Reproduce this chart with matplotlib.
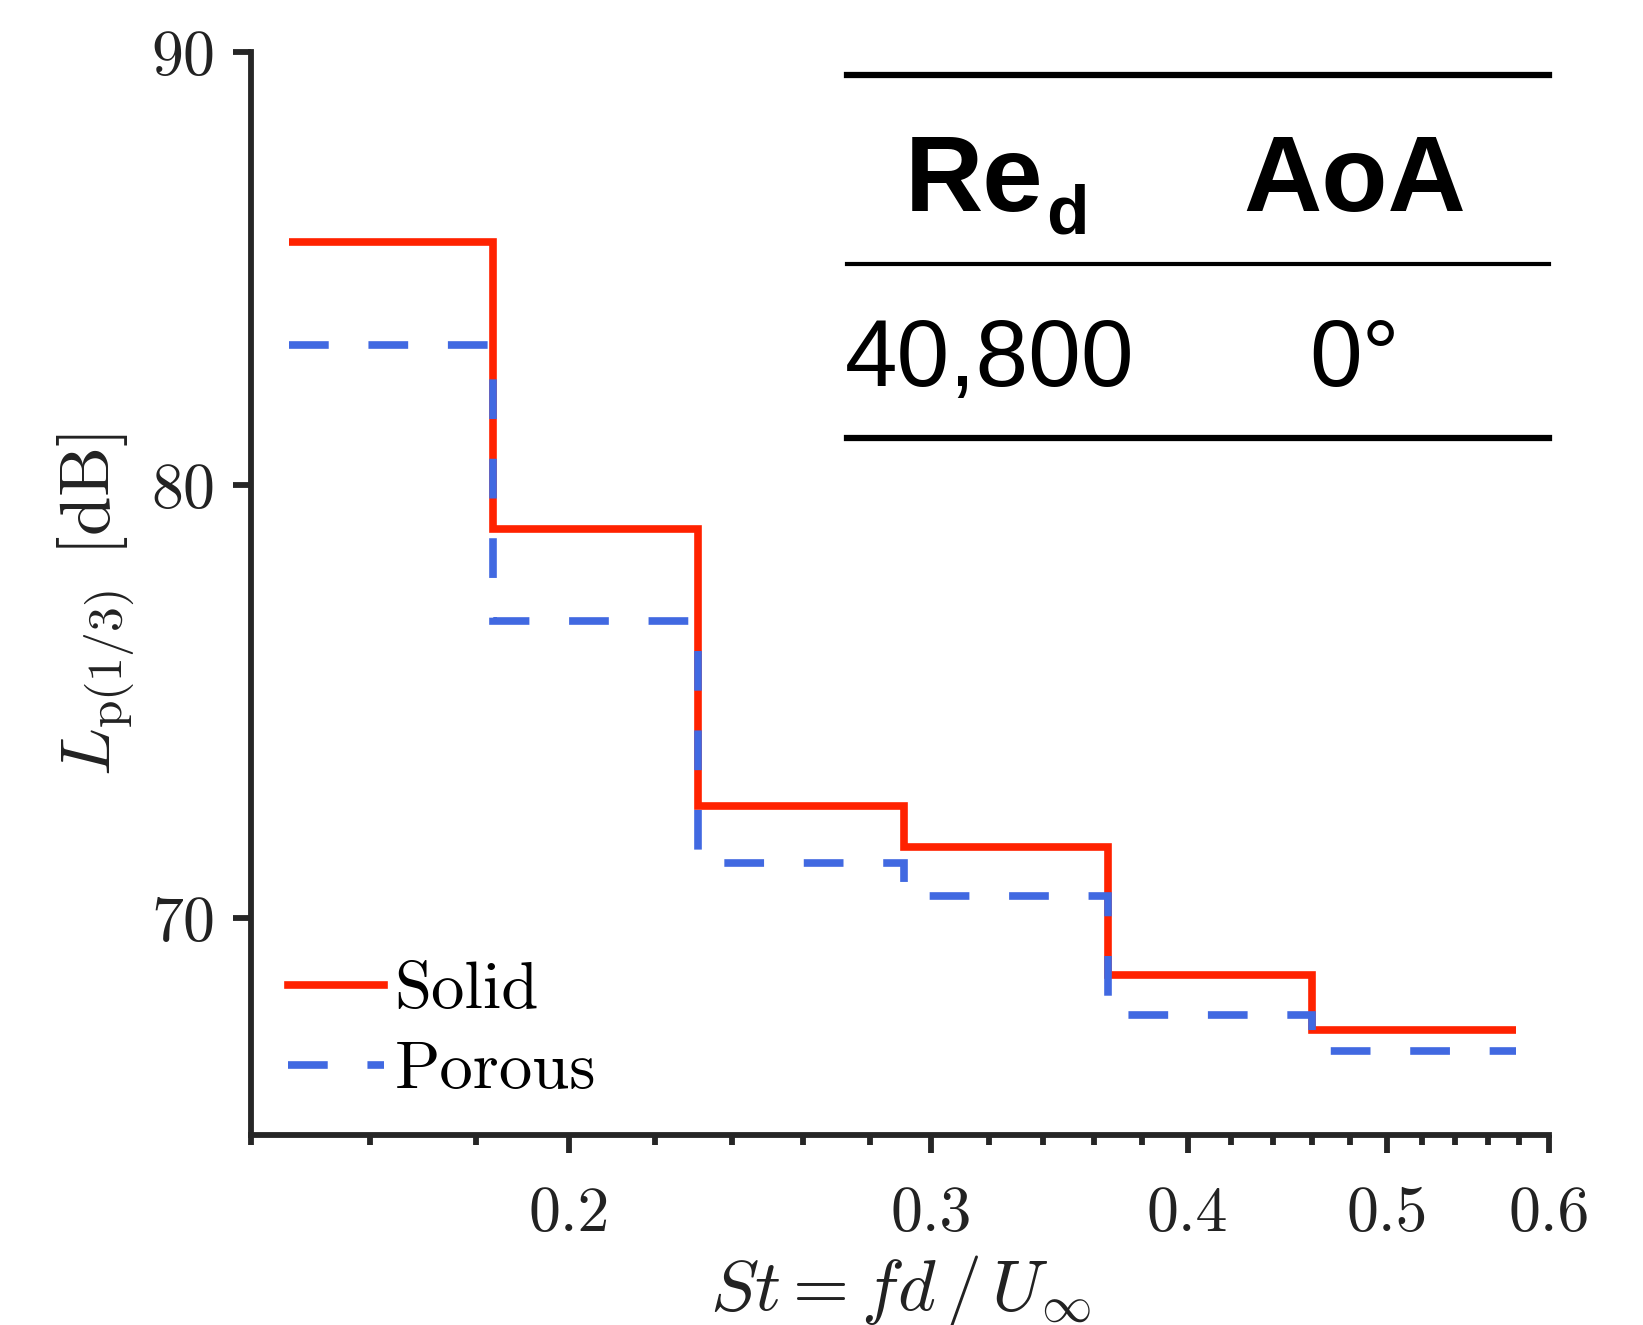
import numpy as np
import matplotlib
matplotlib.use('Agg')
import matplotlib.pyplot as plt
from matplotlib.ticker import FixedLocator, FixedFormatter, NullFormatter

plt.rcParams['font.family'] = 'serif'
plt.rcParams['font.serif'] = ['cmr10']
plt.rcParams['mathtext.fontset'] = 'cm'
plt.rcParams['axes.unicode_minus'] = False
plt.rcParams['axes.formatter.use_mathtext'] = True

# 1/3-octave band edges (St) and levels (dB)
band_edges = [0.146, 0.1835, 0.231, 0.291, 0.366, 0.460, 0.578]
solid = [85.62, 78.99, 72.60, 71.66, 68.70, 67.42]
porous = [83.25, 76.88, 71.27, 70.52, 67.76, 66.94]

xticks = [0.2, 0.3, 0.4, 0.5, 0.6]
xticklabels = ['0.2', '0.3', '0.4', '0.5', '0.6']
xminor = [0.14, 0.16, 0.18, 0.22, 0.24, 0.26, 0.28, 0.32, 0.34, 0.36, 0.38,
          0.42, 0.44, 0.46, 0.48, 0.52, 0.54, 0.56, 0.58]
yticks = [70, 80, 90]

# small table in the corner
table_head = ['Re', 'AoA']
table_row = ['40,800', '0°']

red = '#FF2200'
blue = '#4169E1'
spine_col = '#262626'

fig = plt.figure(figsize=(16.43, 13.25), dpi=100)
ax = fig.add_axes([0.153, 0.1434, 0.79, 0.817])

ax.stairs(solid, band_edges, color=red, lw=5.5, label='Solid', baseline=None)
ax.stairs(porous, band_edges, color=blue, lw=5.5, ls=(0, (5.2, 5.2)),
          label='Porous', baseline=None)

ax.set_xscale('log')
ax.set_xlim(0.14, 0.6)
ax.set_ylim(65, 90)
ax.xaxis.set_major_locator(FixedLocator(xticks))
ax.xaxis.set_major_formatter(FixedFormatter(xticklabels))
ax.xaxis.set_minor_locator(FixedLocator(xminor))
ax.xaxis.set_minor_formatter(NullFormatter())
ax.set_yticks(yticks)

for s in ['top', 'right']:
    ax.spines[s].set_visible(False)
for s in ['left', 'bottom']:
    ax.spines[s].set_linewidth(4.2)
    ax.spines[s].set_color(spine_col)

ax.tick_params(which='major', direction='out', length=13, width=4.2,
               color=spine_col, labelsize=46, labelcolor='#222222')
ax.tick_params(axis='x', which='major', pad=24)
ax.tick_params(axis='y', which='major', pad=14)
ax.tick_params(which='minor', direction='out', length=7.5, width=4.2,
               color=spine_col)

ax.set_xlabel(r'$St = fd\,/\,U_\infty$', fontsize=52, labelpad=6, color='#222222')
ax.set_ylabel(r'$L_{\mathrm{p}(1/3)}\;\,[\mathrm{dB}]$', fontsize=51,
              color='#222222')
ax.yaxis.set_label_coords(-0.089, 0.49)

ax.legend(loc='lower left', bbox_to_anchor=(0.028, 0.031), frameon=False,
          fontsize=48, handlelength=1.45, handletextpad=0.15,
          labelspacing=0.31, borderpad=0, borderaxespad=0)

# table lines
tr = ax.transAxes
ax.plot([0.459, 1.0], [0.979, 0.979], color='black', lw=4.5, transform=tr, clip_on=False)
ax.plot([0.459, 1.0], [0.805, 0.805], color='black', lw=3.0, transform=tr, clip_on=False)
ax.plot([0.459, 1.0], [0.644, 0.644], color='black', lw=4.5, transform=tr, clip_on=False)

tfont = 'Liberation Sans'
ax.text(0.503, 0.854, table_head[0], transform=tr, fontsize=78, fontweight='bold',
        family=tfont, ha='left', va='baseline')
ax.text(0.612, 0.833, 'd', transform=tr, fontsize=50, fontweight='bold',
        family=tfont, ha='left', va='baseline')
ax.text(0.850, 0.854, table_head[1], transform=tr, fontsize=78, fontweight='bold',
        family=tfont, ha='center', va='baseline')
ax.text(0.569, 0.692, table_row[0], transform=tr, fontsize=68,
        family=tfont, ha='center', va='baseline')
ax.text(0.850, 0.692, table_row[1], transform=tr, fontsize=68,
        family=tfont, ha='center', va='baseline')

fig.savefig('out.png', dpi=100)
